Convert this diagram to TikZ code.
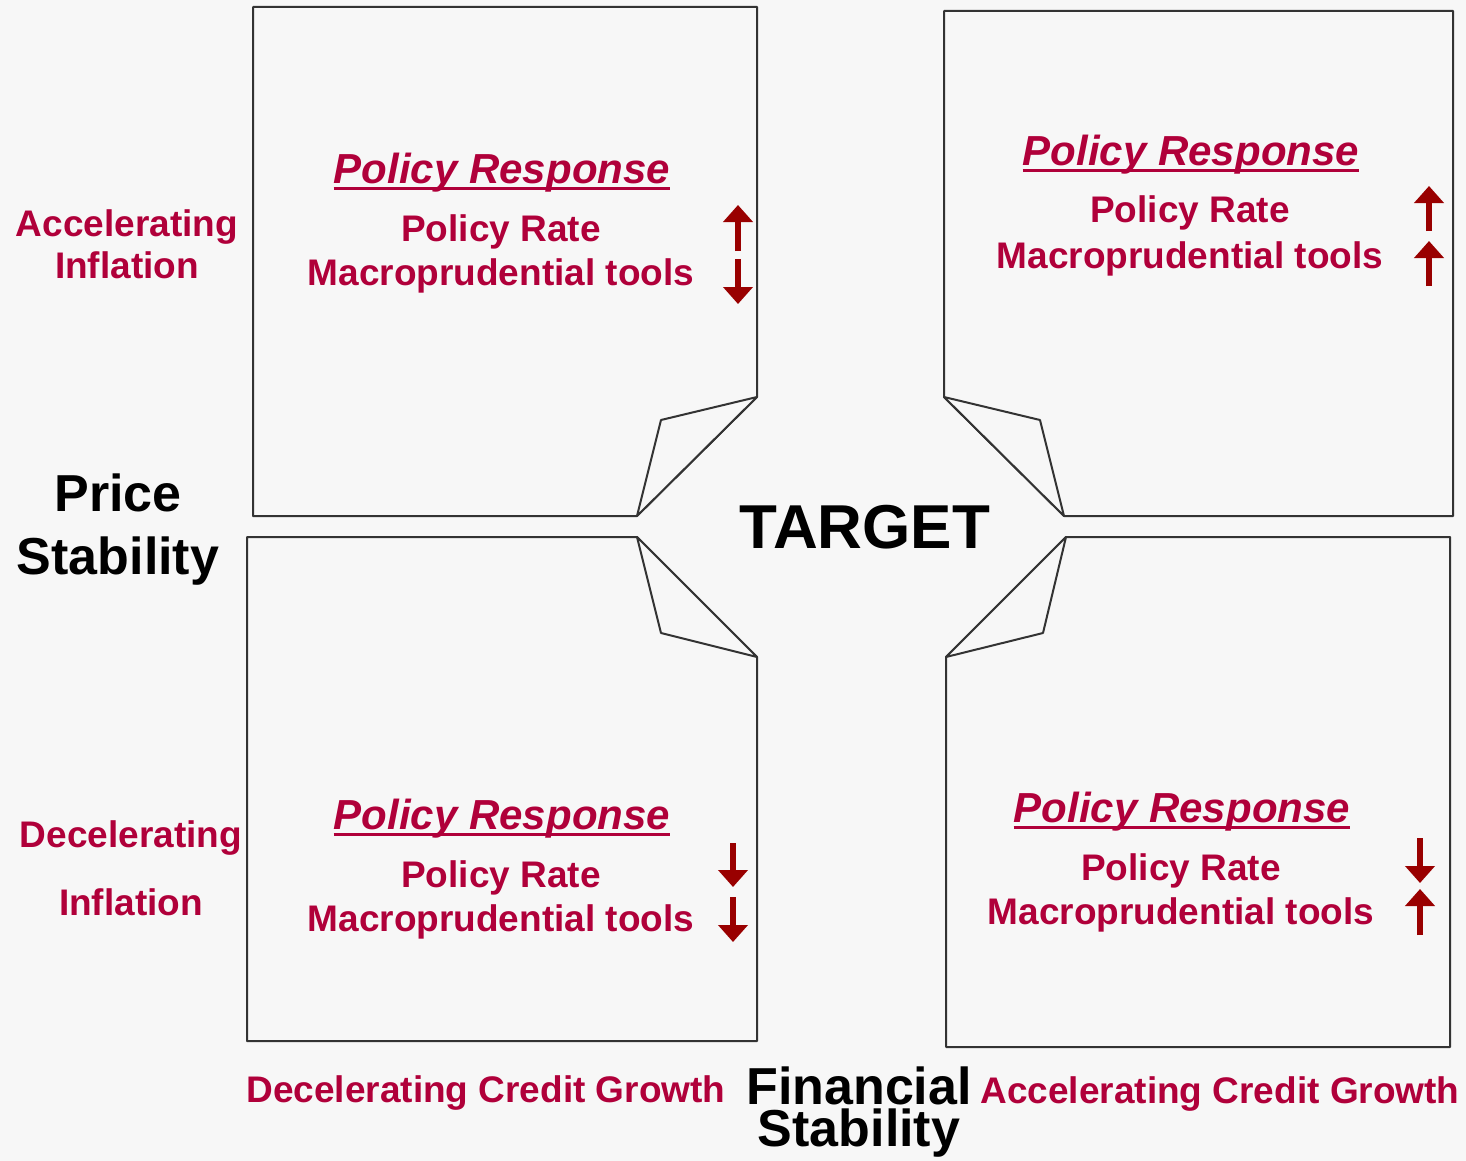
\documentclass[tikz,border=0pt]{standalone}
\usepackage{fontspec}
\setmainfont{Liberation Sans}
\usetikzlibrary{arrows.meta}

\definecolor{bgcol}{HTML}{F7F7F7}
\definecolor{txtred}{HTML}{B0003A}
\definecolor{arrred}{HTML}{990000}
\definecolor{edgecol}{HTML}{333333}

\tikzset{
  page/.style={draw=edgecol, line width=1pt, fill=bgcol, line join=bevel},
  resp/.style={anchor=base, inner sep=0pt, text=txtred,
    font=\bfseries\itshape\fontsize{21}{25}\selectfont},
  item/.style={anchor=base, inner sep=0pt, text=txtred,
    font=\bfseries\fontsize{18.5}{22}\selectfont},
  side/.style={anchor=base, inner sep=0pt, text=txtred, align=center,
    font=\bfseries\fontsize{18.5}{21}\selectfont},
  big/.style={anchor=base, inner sep=0pt, align=center,
    font=\bfseries\fontsize{26}{31.5}\selectfont},
  uline/.style={draw=txtred, line width=1.6pt},
  move/.style={draw=arrred, line width=3pt,
    -{Triangle[length=8.5pt,width=14.5pt]}},
}

\begin{document}
\begin{tikzpicture}[x=0.5pt,y=-0.5pt]

  \fill[bgcol] (0,0) rectangle (1466,1161);
  \useasboundingbox (0,0) rectangle (1466,1161);

  % top left page
  \draw[page] (253,7) -- (757,7) -- (757,397) -- (637,516) -- (253,516) -- cycle;
  \draw[page] (757,397) -- (661,420) -- (637,516) -- cycle;
  \node[resp] (respTL) at (502,183) {Policy Response};
  \draw[uline] ([yshift=-2.7pt]respTL.base west) -- ([yshift=-2.7pt]respTL.base east);
  \node[item] (rateTL) at (501,241) {Policy Rate};
  \node[item] (macroTL) at (501,285) {Macroprudential tools};
  \draw[move] (738,251) -- (738,205);
  \draw[move] (738,259) -- (738,304);

  % top right page
  \draw[page] (944,11) -- (1453,11) -- (1453,516) -- (1064,516) -- (944,397) -- cycle;
  \draw[page] (944,397) -- (1040,420) -- (1064,516) -- cycle;
  \node[resp] (respTR) at (1191,165) {Policy Response};
  \draw[uline] ([yshift=-2.7pt]respTR.base west) -- ([yshift=-2.7pt]respTR.base east);
  \node[item] (rateTR) at (1190,222) {Policy Rate};
  \node[item] (macroTR) at (1190,268) {Macroprudential tools};
  \draw[move] (1429,231) -- (1429,186);
  \draw[move] (1429,286) -- (1429,241);

  % bottom left page
  \draw[page] (247,537) -- (637,537) -- (757,657) -- (757,1041) -- (247,1041) -- cycle;
  \draw[page] (637,537) -- (661,633) -- (757,657) -- cycle;
  \node[resp] (respBL) at (502,829) {Policy Response};
  \draw[uline] ([yshift=-2.7pt]respBL.base west) -- ([yshift=-2.7pt]respBL.base east);
  \node[item] (rateBL) at (501,887) {Policy Rate};
  \node[item] (macroBL) at (501,931) {Macroprudential tools};
  \draw[move] (733,843) -- (733,887);
  \draw[move] (733,897) -- (733,942);

  % bottom right page
  \draw[page] (1066,537) -- (1450,537) -- (1450,1047) -- (946,1047) -- (946,657) -- cycle;
  \draw[page] (1066,537) -- (1043,633) -- (946,657) -- cycle;
  \node[resp] (respBR) at (1182,822) {Policy Response};
  \draw[uline] ([yshift=-2.7pt]respBR.base west) -- ([yshift=-2.7pt]respBR.base east);
  \node[item] (rateBR) at (1181,880) {Policy Rate};
  \node[item] (macroBR) at (1181,924) {Macroprudential tools};
  \draw[move] (1420,838) -- (1420,883);
  \draw[move] (1420,935) -- (1420,889);

  % axis labels (base = last line)
  \node[side] (accinf) at (127,278) {Accelerating\\Inflation};
  \node[side, font=\bfseries\fontsize{18.5}{34}\selectfont] (decinf) at (131,915) {Decelerating\\Inflation};
  \node[big] (price) at (118,574) {Price\\Stability};
  \node[big, font=\bfseries\fontsize{31}{36}\selectfont] (target) at (865,548) {TARGET};
  \node[big, font=\bfseries\fontsize{26}{21}\selectfont] (finstab) at (859,1146) {Financial\\Stability};
  \node[item] (deccred) at (486,1102) {Decelerating Credit Growth};
  \node[item] (acccred) at (1220,1103) {Accelerating Credit Growth};

\end{tikzpicture}
\end{document}
